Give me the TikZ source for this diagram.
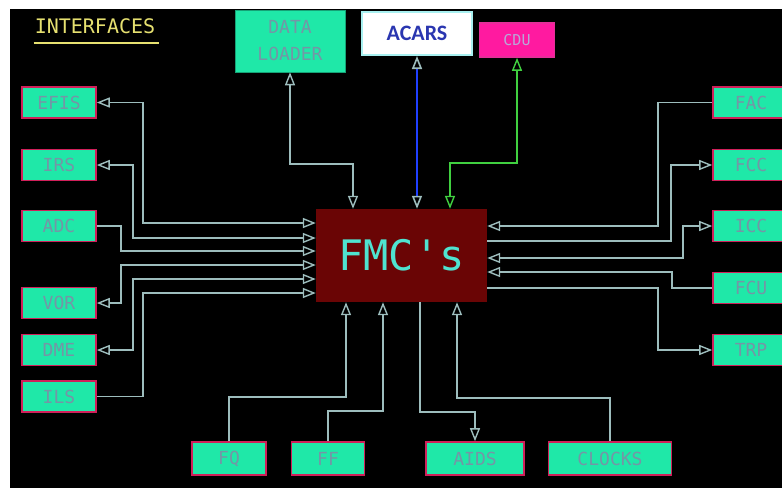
\documentclass[tikz,border=0pt]{standalone}
\usepackage{fontspec}
\setmonofont{DejaVu Sans Mono}
\newfontfamily\calib{Carlito}
\usetikzlibrary{arrows.meta}
\definecolor{boxgreen}{HTML}{1FE8A8}
\definecolor{boxborder}{HTML}{D0205A}
\definecolor{boxtext}{HTML}{7496A6}
\definecolor{conncol}{HTML}{9DBDBD}
\definecolor{fmcfill}{HTML}{6A0505}
\definecolor{fmctext}{HTML}{4FE3D0}
\definecolor{ifyellow}{HTML}{E6E070}
\definecolor{cdufill}{HTML}{FF1AA0}
\definecolor{cdutext}{HTML}{B8A8D8}
\definecolor{acarsborder}{HTML}{A8F0F0}
\definecolor{acarstext}{HTML}{2A36B0}
\definecolor{bluelink}{HTML}{2040FF}
\definecolor{greenlink}{HTML}{40D040}
\tikzset{
  unitbox/.style={draw=boxborder, line width=1.6pt, fill=boxgreen, text=boxtext,
    font=\ttfamily\fontsize{18}{20}\selectfont, inner sep=0pt, minimum height=31pt, minimum width=74pt},
  conn/.style={draw=conncol, line width=1.4pt},
  >={Triangle[open,length=13pt,width=10pt]}
}
\begin{document}
\begin{tikzpicture}[x=1pt,y=-1pt]
\clip (0,0) rectangle (782,488);
\fill[white] (0,0) rectangle (782,488);
\fill[black] (10,9) rectangle (782,488);
% title
\node[text=ifyellow, font=\ttfamily\fontsize{20}{22}\selectfont, inner sep=0pt] (title) at (95,26) {INTERFACES};
\draw[ifyellow, line width=2.5pt] (title.south west) ++(-1,9) -- ++(125,0);
% center
\node[fill=fmcfill, minimum width=171pt, minimum height=93pt, inner sep=0pt,
  text=fmctext, font=\ttfamily\fontsize{42}{46}\selectfont] (fmc) at (401.5,255.5) {FMC's};
% top boxes
\node[fill=boxgreen, draw=boxgreen!70!black, line width=0.6pt, minimum width=110pt, minimum height=62pt, inner sep=0pt,
  text=boxtext, font=\ttfamily\fontsize{18}{27}\selectfont, align=center] (dl) at (290,41) {DATA\\LOADER};
\node[fill=white, draw=acarsborder, line width=2pt, minimum width=110pt, minimum height=43pt, inner sep=0pt,
  text=acarstext, font=\calib\bfseries\fontsize{22}{24}\selectfont] (acars) at (417,33.5) {ACARS};
\node[fill=cdufill, draw=cdufill!80!gray, line width=1.6pt, minimum width=75pt, minimum height=34pt, inner sep=0pt,
  text=cdutext, font=\ttfamily\fontsize{15}{18}\selectfont] (cdu) at (517,40) {CDU};
% left boxes
\node[unitbox] (efis) at (59,102.5) {EFIS};
\node[unitbox] (irs) at (59,165) {IRS};
\node[unitbox] (adc) at (59,226) {ADC};
\node[unitbox] (vor) at (59,303) {VOR};
\node[unitbox] (dme) at (59,350) {DME};
\node[unitbox] (ils) at (59,396.5) {ILS};
% right boxes
\node[unitbox, minimum width=76pt] (fac) at (751,102.5) {FAC};
\node[unitbox, minimum width=76pt] (fcc) at (751,165) {FCC};
\node[unitbox, minimum width=76pt] (icc) at (751,226) {ICC};
\node[unitbox, minimum width=76pt] (fcu) at (751,288) {FCU};
\node[unitbox, minimum width=76pt] (trp) at (751,350) {TRP};
% bottom boxes
\node[unitbox, minimum height=33pt] (fq) at (229,458.5) {FQ};
\node[unitbox, minimum height=33pt, minimum width=73pt] (ff) at (328,458.5) {FF};
\node[unitbox, minimum height=33pt, minimum width=98pt] (aids) at (475,458.5) {AIDS};
\node[unitbox, minimum height=33pt, minimum width=123pt] (clocks) at (610,458.5) {CLOCKS};
% left connectors
\draw[conn,<->] (efis.east) -| (143,223) -- (fmc.west |- 0,223);
\draw[conn,<->] (irs.east) -| (133,238) -- (fmc.west |- 0,238);
\draw[conn,->] (adc.east) -| (121,251) -- (fmc.west |- 0,251);
\draw[conn,<->] (vor.east) -| (121,265) -- (fmc.west |- 0,265);
\draw[conn,<->] (dme.east) -| (133,279) -- (fmc.west |- 0,279);
\draw[conn,->] (ils.east) -| (143,293) -- (fmc.west |- 0,293);
% top connectors
\draw[conn,<->] (dl.south) |- (353,164) -- (fmc.north -| 353,0);
\draw[line width=1.6pt, draw=bluelink, <->, >={Triangle[open,length=13pt,width=10pt,color=conncol]}] (acars.south) -- (fmc.north -| acars.south);
\draw[line width=1.4pt, draw=greenlink, <->] (cdu.south) |- (450,163) -- (fmc.north -| 450,0);
% right connectors
\draw[conn,->] (fac.west) -| (658,226) -- (fmc.east |- 0,226);
\draw[conn,<-] (fcc.west) -| (671,241) -- (fmc.east |- 0,241);
\draw[conn,<->] (icc.west) -| (683,258) -- (fmc.east |- 0,258);
\draw[conn,->] (fcu.west) -| (672,272) -- (fmc.east |- 0,272);
\draw[conn,<-] (trp.west) -| (658,288) -- (fmc.east |- 0,288);
% bottom connectors
\draw[conn,->] (fq.north) |- (346,397) -- (fmc.south -| 346,0);
\draw[conn,->] (ff.north) |- (383,411) -- (fmc.south -| 383,0);
\draw[conn,->] (fmc.south -| 420,0) |- (475,412) -- (aids.north);
\draw[conn,->] (clocks.north) |- (457,398) -- (fmc.south -| 457,0);
\end{tikzpicture}
\end{document}
